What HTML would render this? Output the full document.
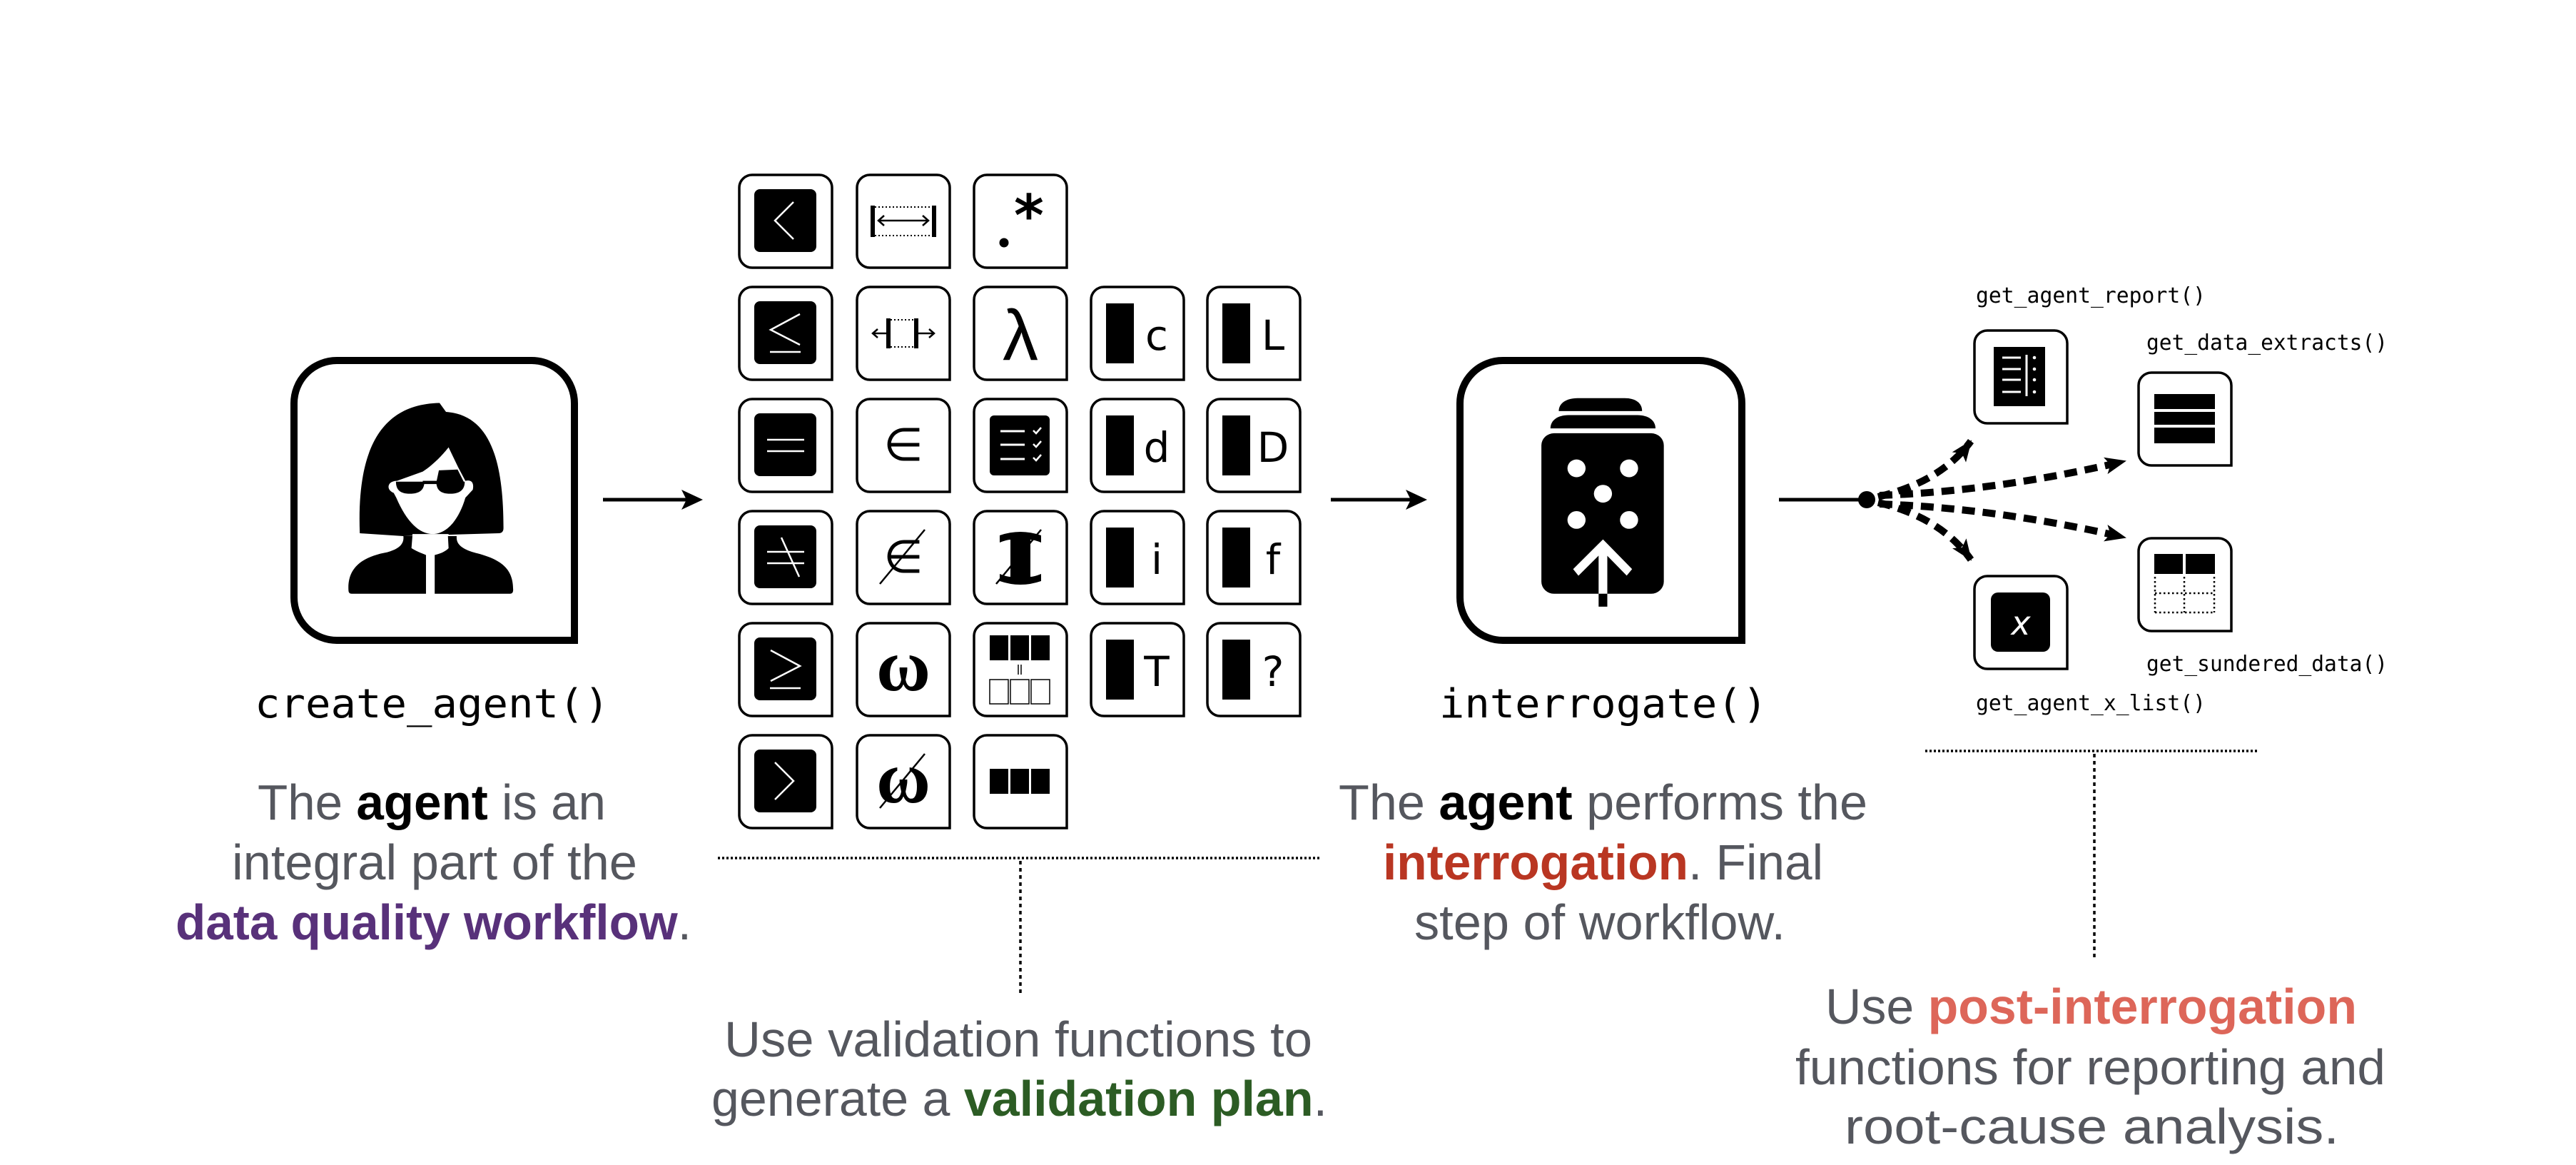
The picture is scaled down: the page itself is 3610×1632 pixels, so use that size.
<!DOCTYPE html>
<html><head><meta charset="utf-8"><style>
html,body{margin:0;padding:0;background:#fff;}
svg{display:block;}
.d{font-family:"Liberation Sans",Arial,sans-serif;font-size:70px;fill:#55575e;}
.m{font-family:"DejaVu Sans Mono","Liberation Mono",monospace;fill:#000;}
.l{font-family:"DejaVu Sans","Liberation Sans",sans-serif;font-size:58px;fill:#000;}
</style></head><body>
<svg width="3610" height="1632" viewBox="0 0 3610 1632" xmlns="http://www.w3.org/2000/svg">
<defs>
<path id="t" d="M18,0 H112 A18,18 0 0 1 130,18 V130 H18 A18,18 0 0 1 0,112 V18 A18,18 0 0 1 18,0 Z" fill="#fff" stroke="#000" stroke-width="3.5"/>
<rect id="bk" x="21" y="20" width="87" height="88" rx="8" fill="#000"/>
<rect id="bar" x="21" y="23" width="39" height="84" fill="#000"/>
<marker id="ah" viewBox="0 0 30 24" refX="28" refY="12" markerWidth="30" markerHeight="24" markerUnits="userSpaceOnUse" orient="auto"><path d="M0,0 L30,12 L0,24 L7,12 Z" fill="#000"/></marker>
</defs>

<!-- Agent box -->
<path d="M472,505 H745 A60,60 0 0 1 805,565 V897 H472 A60,60 0 0 1 412,837 V565 A60,60 0 0 1 472,505 Z" fill="none" stroke="#000" stroke-width="10"/>
<g transform="translate(330,460) scale(0.4525,0.565)">
<path d="M385,508 C375,300 450,188 632,185 L652,207 C790,215 830,330 830,495 Q830,508 815,508 L520,515 Z" fill="#000"/>
<path d="M498,420 C530,480 570,510 610,510 C650,510 690,480 712,420 L735,400 C740,380 728,375 712,378 L690,345 L660,295 C630,325 600,345 580,355 L500,378 C470,378 465,400 490,408 Z" fill="#fff"/>
<path d="M497,380 L585,380 C585,400 570,410 540,410 C510,410 497,400 497,380 Z" fill="#000"/>
<path d="M622,380 L710,380 C710,400 695,410 665,410 C635,410 622,400 622,380 Z" fill="#000"/>
<path d="M622,382 L630,352 L688,350 L708,382 Z" fill="#000"/>
<rect x="580" y="378" width="45" height="8" fill="#000"/>
<path d="M548,510 L660,510 L660,545 C640,555 620,560 604,560 C585,560 565,555 548,545 Z" fill="#fff"/>
<path d="M350,650 C345,590 400,565 470,555 C515,545 522,530 520,515 L548,515 L545,545 C565,555 585,560 590,562 L590,658 L360,658 Q350,658 350,650 Z" fill="#000"/>
<path d="M617,562 C640,558 655,550 660,545 L658,515 L685,515 C683,535 700,548 750,558 C830,575 860,600 860,648 Q860,658 850,658 L617,658 Z" fill="#000"/>
</g>
<text class="m" x="357" y="1005" font-size="56" textLength="497" lengthAdjust="spacingAndGlyphs">create_agent()</text>
<text class="d" x="361" y="1148" textLength="488" lengthAdjust="spacingAndGlyphs">The <tspan font-weight="bold" fill="#000">agent</tspan> is an</text>
<text class="d" x="325" y="1232" textLength="568" lengthAdjust="spacingAndGlyphs">integral part of the</text>
<text class="d" x="246" y="1316" textLength="723" lengthAdjust="spacingAndGlyphs"><tspan font-weight="bold" fill="#58317a">data quality workflow</tspan>.</text>

<!-- Arrow 1 -->
<line x1="845" y1="700" x2="970" y2="700" stroke="#000" stroke-width="5"/>
<path d="M985,700 L955,686 L962,700 L955,714 Z" fill="#000"/>

<!-- Grid -->
<g transform="translate(1036,245)"><use href="#t"/><use href="#bk"/><polyline points="76,38 50,64 76,90" fill="none" stroke="#fff" stroke-width="2.5"/></g>
<g transform="translate(1201,245)"><use href="#t"/><rect x="19" y="43" width="6" height="44"/><rect x="105" y="43" width="6" height="44"/><line x1="25" y1="45" x2="105" y2="45" stroke="#000" stroke-width="2" stroke-dasharray="2,3"/><line x1="25" y1="85" x2="105" y2="85" stroke="#000" stroke-width="2" stroke-dasharray="2,3"/><line x1="30" y1="64" x2="100" y2="64" stroke="#000" stroke-width="2.5"/><polyline points="38,57 30,64 38,71" fill="none" stroke="#000" stroke-width="2.5"/><polyline points="92,57 100,64 92,71" fill="none" stroke="#000" stroke-width="2.5"/></g>
<g transform="translate(1365,245)"><use href="#t"/><circle cx="42" cy="95" r="6.5"/><text x="56" y="85" font-family="DejaVu Sans,sans-serif" font-size="80" font-weight="bold">*</text></g>
<g transform="translate(1036,402)"><use href="#t"/><use href="#bk"/><polyline points="85,38 44,60 85,81" fill="none" stroke="#fff" stroke-width="2.5"/><line x1="43" y1="91" x2="86" y2="91" stroke="#fff" stroke-width="2.5"/></g>
<g transform="translate(1201,402)"><use href="#t"/><rect x="41" y="44" width="6" height="42"/><rect x="80" y="44" width="6" height="42"/><line x1="47" y1="46" x2="80" y2="46" stroke="#000" stroke-width="2" stroke-dasharray="2,3"/><line x1="47" y1="84" x2="80" y2="84" stroke="#000" stroke-width="2" stroke-dasharray="2,3"/><line x1="22" y1="65" x2="41" y2="65" stroke="#000" stroke-width="2.5"/><polyline points="29,59 22,65 29,71" fill="none" stroke="#000" stroke-width="2.5"/><line x1="86" y1="65" x2="108" y2="65" stroke="#000" stroke-width="2.5"/><polyline points="101,59 108,65 101,71" fill="none" stroke="#000" stroke-width="2.5"/></g>
<g transform="translate(1365,402)"><use href="#t"/><text x="65" y="102" text-anchor="middle" font-family="Liberation Sans,sans-serif" font-size="100">λ</text></g>
<g transform="translate(1529,402)"><use href="#t"/><use href="#bar"/><text class="l" x="92" y="88" text-anchor="middle">c</text></g>
<g transform="translate(1692,402)"><use href="#t"/><use href="#bar"/><text class="l" x="92" y="88" text-anchor="middle">L</text></g>
<g transform="translate(1036,559)"><use href="#t"/><use href="#bk"/><line x1="39" y1="57" x2="91" y2="57" stroke="#fff" stroke-width="2.5"/><line x1="39" y1="73" x2="91" y2="73" stroke="#fff" stroke-width="2.5"/></g>
<g transform="translate(1201,559)"><use href="#t"/><text x="65" y="86" text-anchor="middle" font-family="DejaVu Sans,sans-serif" font-size="64">∈</text></g>
<g transform="translate(1365,559)"><use href="#t"/><rect x="22" y="23" width="84" height="84" rx="6"/><g stroke="#fff" stroke-width="3"><line x1="37" y1="45" x2="71" y2="45"/><line x1="37" y1="64" x2="71" y2="64"/><line x1="37" y1="84" x2="71" y2="84"/></g><g fill="none" stroke="#fff" stroke-width="2.5"><polyline points="83,44 87,48 94,40"/><polyline points="83,63 87,67 94,59"/><polyline points="83,82 87,86 94,78"/></g></g>
<g transform="translate(1529,559)"><use href="#t"/><use href="#bar"/><text class="l" x="92" y="88" text-anchor="middle">d</text></g>
<g transform="translate(1692,559)"><use href="#t"/><use href="#bar"/><text class="l" x="92" y="88" text-anchor="middle">D</text></g>
<g transform="translate(1036,716)"><use href="#t"/><use href="#bk"/><line x1="39" y1="57" x2="91" y2="57" stroke="#fff" stroke-width="2.5"/><line x1="39" y1="73" x2="91" y2="73" stroke="#fff" stroke-width="2.5"/><line x1="59" y1="37" x2="84" y2="92" stroke="#fff" stroke-width="2.5"/></g>
<g transform="translate(1201,716)"><use href="#t"/><text x="65" y="86" text-anchor="middle" font-family="DejaVu Sans,sans-serif" font-size="64">∈</text><line x1="32" y1="102" x2="95" y2="26" stroke="#000" stroke-width="2.5"/></g>
<g transform="translate(1365,716)"><use href="#t"/><path d="M36,34 Q65,24 94,34 L94,44 Q84,40 79,40 L79,92 Q84,92 94,88 L94,98 Q65,108 36,98 L36,88 Q46,92 51,92 L51,40 Q46,40 36,44 Z"/><line x1="31" y1="102" x2="94" y2="26" stroke="#000" stroke-width="2.5"/></g>
<g transform="translate(1529,716)"><use href="#t"/><use href="#bar"/><text class="l" x="92" y="88" text-anchor="middle">i</text></g>
<g transform="translate(1692,716)"><use href="#t"/><use href="#bar"/><text class="l" x="92" y="88" text-anchor="middle">f</text></g>
<g transform="translate(1036,873)"><use href="#t"/><use href="#bk"/><polyline points="44,38 85,60 44,81" fill="none" stroke="#fff" stroke-width="2.5"/><line x1="43" y1="91" x2="86" y2="91" stroke="#fff" stroke-width="2.5"/></g>
<g transform="translate(1201,873)"><use href="#t"/><text x="65" y="94" text-anchor="middle" font-family="Liberation Serif,serif" font-weight="bold" font-size="104">ω</text></g>
<g transform="translate(1365,873)"><use href="#t"/><rect x="22" y="17" width="26" height="35"/><rect x="51" y="17" width="26" height="35"/><rect x="80" y="17" width="26" height="35"/><line x1="62" y1="58" x2="62" y2="72" stroke="#000" stroke-width="1.5"/><line x1="66" y1="58" x2="66" y2="72" stroke="#000" stroke-width="1.5"/><g fill="none" stroke="#000" stroke-width="1.5"><rect x="22" y="79" width="26" height="34"/><rect x="51" y="79" width="26" height="34"/><rect x="80" y="79" width="26" height="34"/></g></g>
<g transform="translate(1529,873)"><use href="#t"/><use href="#bar"/><text class="l" x="92" y="88" text-anchor="middle">T</text></g>
<g transform="translate(1692,873)"><use href="#t"/><use href="#bar"/><text class="l" x="92" y="88" text-anchor="middle">?</text></g>
<g transform="translate(1036,1030)"><use href="#t"/><use href="#bk"/><polyline points="50,38 76,64 50,90" fill="none" stroke="#fff" stroke-width="2.5"/></g>
<g transform="translate(1201,1030)"><use href="#t"/><text x="65" y="94" text-anchor="middle" font-family="Liberation Serif,serif" font-weight="bold" font-size="104">ω</text><line x1="32" y1="102" x2="95" y2="26" stroke="#000" stroke-width="2.5"/></g>
<g transform="translate(1365,1030)"><use href="#t"/><rect x="22" y="47" width="26" height="35"/><rect x="51" y="47" width="26" height="35"/><rect x="80" y="47" width="26" height="35"/></g>

<line x1="1006" y1="1202" x2="1849" y2="1202" stroke="#000" stroke-width="3.5" stroke-dasharray="3,3"/>
<line x1="1430" y1="1206" x2="1430" y2="1393" stroke="#000" stroke-width="3.5" stroke-dasharray="5,5"/>
<text class="d" x="1015" y="1480" textLength="824" lengthAdjust="spacingAndGlyphs">Use validation functions to</text>
<text class="d" x="997" y="1563" textLength="863" lengthAdjust="spacingAndGlyphs">generate a <tspan font-weight="bold" fill="#2c5c24">validation plan</tspan>.</text>

<line x1="1865" y1="700" x2="1985" y2="700" stroke="#000" stroke-width="5"/>
<path d="M2000,700 L1970,686 L1977,700 L1970,714 Z" fill="#000"/>

<path d="M2106,505 H2381 A60,60 0 0 1 2441,565 V897 H2106 A60,60 0 0 1 2046,837 V565 A60,60 0 0 1 2106,505 Z" fill="none" stroke="#000" stroke-width="10"/>
<g transform="translate(1820,460) scale(0.5076,0.565)">
<path d="M718,205 C718,185 740,173 770,173 L900,173 C930,173 948,185 948,205 Z"/>
<path d="M695,248 C695,228 715,215 745,215 L935,215 C965,215 985,228 985,248 Z"/>
<rect x="670" y="260" width="338" height="398" rx="35" ry="30"/>
<g fill="#fff"><ellipse cx="767" cy="347" rx="25" ry="22"/><ellipse cx="912" cy="347" rx="25" ry="22"/><ellipse cx="840" cy="410" rx="25" ry="22"/><ellipse cx="767" cy="475" rx="25" ry="22"/><ellipse cx="912" cy="475" rx="25" ry="22"/><rect x="828" y="540" width="24" height="118"/></g>
<polyline points="765,605 840,538 913,605" fill="none" stroke="#fff" stroke-width="22"/>
<rect x="828" y="658" width="24" height="32"/>
</g>
<text class="m" x="2017" y="1005" font-size="56" textLength="460" lengthAdjust="spacingAndGlyphs">interrogate()</text>
<text class="d" x="1876" y="1148" textLength="741" lengthAdjust="spacingAndGlyphs">The <tspan font-weight="bold" fill="#000">agent</tspan> performs the</text>
<text class="d" x="1938" y="1232" textLength="617" lengthAdjust="spacingAndGlyphs"><tspan font-weight="bold" fill="#b93622">interrogation</tspan>. Final</text>
<text class="d" x="1982" y="1316" textLength="520" lengthAdjust="spacingAndGlyphs">step of workflow.</text>

<line x1="2493" y1="700" x2="2612" y2="700" stroke="#000" stroke-width="5"/>
<circle cx="2616" cy="700" r="12"/>
<g fill="none" stroke="#000" stroke-width="10" stroke-dasharray="18,11">
<path d="M2632,696 Q2720,675 2762,618" marker-end="url(#ah)"/>
<path d="M2634,694 Q2800,688 2978,646" marker-end="url(#ah)"/>
<path d="M2634,706 Q2800,712 2978,753" marker-end="url(#ah)"/>
<path d="M2632,704 Q2720,725 2762,784" marker-end="url(#ah)"/>
</g>

<text class="m" x="2769" y="424" font-size="30" textLength="322" lengthAdjust="spacingAndGlyphs">get_agent_report()</text>
<g transform="translate(2767,463)"><use href="#t"/><rect x="27" y="23" width="72" height="83"/><g stroke="#fff" stroke-width="3"><line x1="39" y1="38" x2="65" y2="38"/><line x1="39" y1="54" x2="65" y2="54"/><line x1="39" y1="69" x2="65" y2="69"/><line x1="39" y1="86" x2="65" y2="86"/><line x1="73" y1="34" x2="73" y2="92"/></g><g fill="#fff"><circle cx="84" cy="38" r="2.3"/><circle cx="84" cy="54" r="2.3"/><circle cx="84" cy="69" r="2.3"/><circle cx="84" cy="86" r="2.3"/></g></g>
<text class="m" x="3008" y="490" font-size="30" textLength="338" lengthAdjust="spacingAndGlyphs">get_data_extracts()</text>
<g transform="translate(2997,522)"><use href="#t"/><rect x="22" y="30" width="85" height="21"/><rect x="22" y="55" width="85" height="18"/><rect x="22" y="77" width="85" height="22"/></g>
<g transform="translate(2997,754)"><use href="#t"/><rect x="22" y="22" width="40" height="28"/><rect x="66" y="22" width="41" height="28"/><g fill="none" stroke="#000" stroke-width="2.5" stroke-dasharray="2.5,3.5"><line x1="23" y1="54" x2="23" y2="104"/><line x1="64" y1="54" x2="64" y2="104"/><line x1="106" y1="54" x2="106" y2="104"/><line x1="23" y1="77" x2="106" y2="77"/><line x1="23" y1="104" x2="106" y2="104"/></g></g>
<text class="m" x="3008" y="940" font-size="30" textLength="338" lengthAdjust="spacingAndGlyphs">get_sundered_data()</text>
<g transform="translate(2767,807)"><use href="#t"/><rect x="23" y="23" width="83" height="83" rx="10"/><text x="65" y="82" text-anchor="middle" fill="#fff" font-family="DejaVu Sans,sans-serif" font-style="italic" font-size="46">x</text></g>
<text class="m" x="2769" y="995" font-size="30" textLength="322" lengthAdjust="spacingAndGlyphs">get_agent_x_list()</text>

<line x1="2698" y1="1052" x2="3165" y2="1052" stroke="#000" stroke-width="3.5" stroke-dasharray="3,3"/>
<line x1="2935" y1="1056" x2="2935" y2="1342" stroke="#000" stroke-width="3.5" stroke-dasharray="5,5"/>
<text class="d" x="2558" y="1434" textLength="745" lengthAdjust="spacingAndGlyphs">Use <tspan font-weight="bold" fill="#dd6659">post-interrogation</tspan></text>
<text class="d" x="2516" y="1519" textLength="827" lengthAdjust="spacingAndGlyphs">functions for reporting and</text>
<text class="d" x="2585" y="1602" textLength="693" lengthAdjust="spacingAndGlyphs">root-cause analysis.</text>
</svg>
</body></html>
